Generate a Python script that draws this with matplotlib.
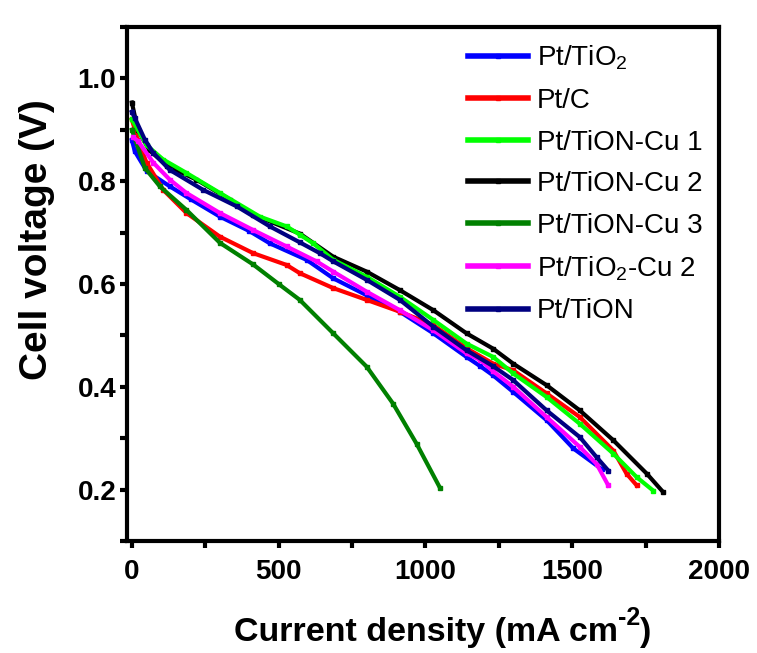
import matplotlib
matplotlib.use("Agg")
import matplotlib.pyplot as plt
from matplotlib.ticker import MultipleLocator

# ---- data ----
labels = ["Pt/TiO$_2$", "Pt/C", "Pt/TiON-Cu 1", "Pt/TiON-Cu 2", "Pt/TiON-Cu 3",
          "Pt/TiO$_2$-Cu 2", "Pt/TiON"]
colors = ["#0000FF", "#FF0000", "#00FF00", "#000000", "#008000", "#FF00FF", "#000080"]

x_tio2 = [0, 10, 50, 129, 200, 300, 400, 470, 595, 686, 800, 913, 1027, 1140, 1187, 1231, 1299, 1413, 1504, 1600]
y_tio2 = [0.88, 0.858, 0.82, 0.79, 0.765, 0.731, 0.703, 0.679, 0.647, 0.611, 0.578, 0.546, 0.504, 0.458, 0.44, 0.422, 0.39, 0.335, 0.28, 0.24]

x_c = [0, 20, 50, 107, 186, 300, 413, 527, 572, 686, 800, 913, 1027, 1140, 1231, 1299, 1413, 1526, 1640, 1685, 1720]
y_c = [0.92, 0.88, 0.836, 0.783, 0.738, 0.692, 0.66, 0.637, 0.621, 0.592, 0.569, 0.546, 0.52, 0.475, 0.445, 0.432, 0.387, 0.341, 0.276, 0.231, 0.208]

x_cu1 = [0, 50, 107, 186, 300, 436, 527, 572, 618, 686, 800, 913, 1027, 1140, 1231, 1299, 1413, 1526, 1640, 1720, 1776]
y_cu1 = [0.92, 0.87, 0.842, 0.816, 0.777, 0.731, 0.712, 0.696, 0.679, 0.647, 0.614, 0.575, 0.53, 0.484, 0.458, 0.426, 0.38, 0.328, 0.27, 0.224, 0.198]

x_cu2 = [0, 20, 60, 120, 220, 334, 413, 572, 686, 800, 913, 1027, 1140, 1231, 1299, 1413, 1526, 1640, 1754, 1810]
y_cu2 = [0.953, 0.90, 0.86, 0.83, 0.803, 0.764, 0.735, 0.698, 0.653, 0.624, 0.588, 0.549, 0.504, 0.474, 0.445, 0.403, 0.354, 0.296, 0.231, 0.195]

x_cu3 = [0, 44, 95, 186, 300, 413, 500, 572, 686, 800, 890, 970, 1049]
y_cu3 = [0.90, 0.826, 0.79, 0.744, 0.68, 0.638, 0.60, 0.569, 0.504, 0.439, 0.367, 0.289, 0.204]

x_tio2cu2 = [5, 21, 73, 129, 186, 300, 413, 527, 629, 686, 800, 913, 1027, 1140, 1187, 1231, 1299, 1413, 1526, 1583, 1623]
y_tio2cu2 = [0.885, 0.878, 0.836, 0.803, 0.777, 0.738, 0.705, 0.673, 0.644, 0.624, 0.585, 0.549, 0.51, 0.465, 0.452, 0.43, 0.40, 0.341, 0.283, 0.25, 0.208]

x_tion = [0, 10, 44, 73, 129, 243, 357, 470, 572, 640, 686, 800, 913, 1027, 1140, 1231, 1299, 1413, 1526, 1583, 1623]
y_tion = [0.935, 0.923, 0.881, 0.855, 0.822, 0.783, 0.751, 0.712, 0.681, 0.66, 0.644, 0.608, 0.569, 0.517, 0.471, 0.44, 0.413, 0.354, 0.302, 0.263, 0.237]

xs = [x_tio2, x_c, x_cu1, x_cu2, x_cu3, x_tio2cu2, x_tion]
ys = [y_tio2, y_c, y_cu1, y_cu2, y_cu3, y_tio2cu2, y_tion]
zorders = [2, 3, 5, 4, 6, 7, 8]

x_ticks = [0, 500, 1000, 1500, 2000]
y_ticks = [0.2, 0.4, 0.6, 0.8, 1.0]

plt.rcParams["mathtext.fontset"] = "custom"
plt.rcParams["mathtext.rm"] = "Liberation Sans"
plt.rcParams["mathtext.it"] = "Liberation Sans"
plt.rcParams["mathtext.bf"] = "Liberation Sans:bold"

# ---- figure ----
fig = plt.figure(figsize=(7.57, 6.53), dpi=100)
ax = fig.add_axes([0.1684, 0.1715, 0.7814, 0.7872])

for x, y, c, lab, z in zip(xs, ys, colors, labels, zorders):
    ax.plot(x, y, color=c, lw=3, marker="s", ms=3.5, mec=c, mfc=c, label=lab, zorder=z)

ax.set_xlim(-15, 2000)
ax.set_ylim(0.1, 1.1)
ax.set_xticks(x_ticks)
ax.set_yticks(y_ticks)
ax.xaxis.set_minor_locator(MultipleLocator(250))
ax.yaxis.set_minor_locator(MultipleLocator(0.1))

for s in ax.spines.values():
    s.set_linewidth(3)

ax.tick_params(which="both", direction="out", width=3, length=5)
ax.tick_params(axis="x", which="major", pad=8)
ax.tick_params(axis="y", which="major", pad=3)

fam = ["Liberation Sans", "DejaVu Sans"]
ax.set_xticklabels([str(v) for v in x_ticks], fontfamily=fam, fontweight="bold", fontsize=20)
ax.set_yticklabels([f"{v:.1f}" for v in y_ticks], fontfamily=fam, fontweight="bold", fontsize=20)

# x label built from pieces so the superscript uses a hyphen
t1 = ax.text(0.180, -0.195, "Current density (mA cm", transform=ax.transAxes,
             ha="left", va="baseline", fontfamily=fam, fontweight="bold", fontsize=24.5)
t2 = ax.annotate("-2", xy=(1.0, 0.58), xycoords=t1, ha="left", va="bottom",
                 fontfamily=fam, fontweight="bold", fontsize=18)
t3 = ax.annotate(")", xy=(1.0, 0.0), xycoords=(t2, t1), ha="left", va="bottom",
                 fontfamily=fam, fontweight="bold", fontsize=24.5)

ax.set_ylabel("Cell voltage (V)", fontfamily=fam, fontweight="bold", fontsize=28)
ax.yaxis.set_label_coords(-0.123, 0.586)

leg = ax.legend(loc="upper left", bbox_to_anchor=(0.576, 0.967), frameon=False,
                prop={"family": fam, "size": 20},
                handlelength=2.16, handletextpad=0.3, labelspacing=0.56,
                borderpad=0, borderaxespad=0, numpoints=1, markerscale=1.0)
for h in leg.legend_handles:
    h.set_linewidth(4)

fig.savefig("out.png", dpi=100)
